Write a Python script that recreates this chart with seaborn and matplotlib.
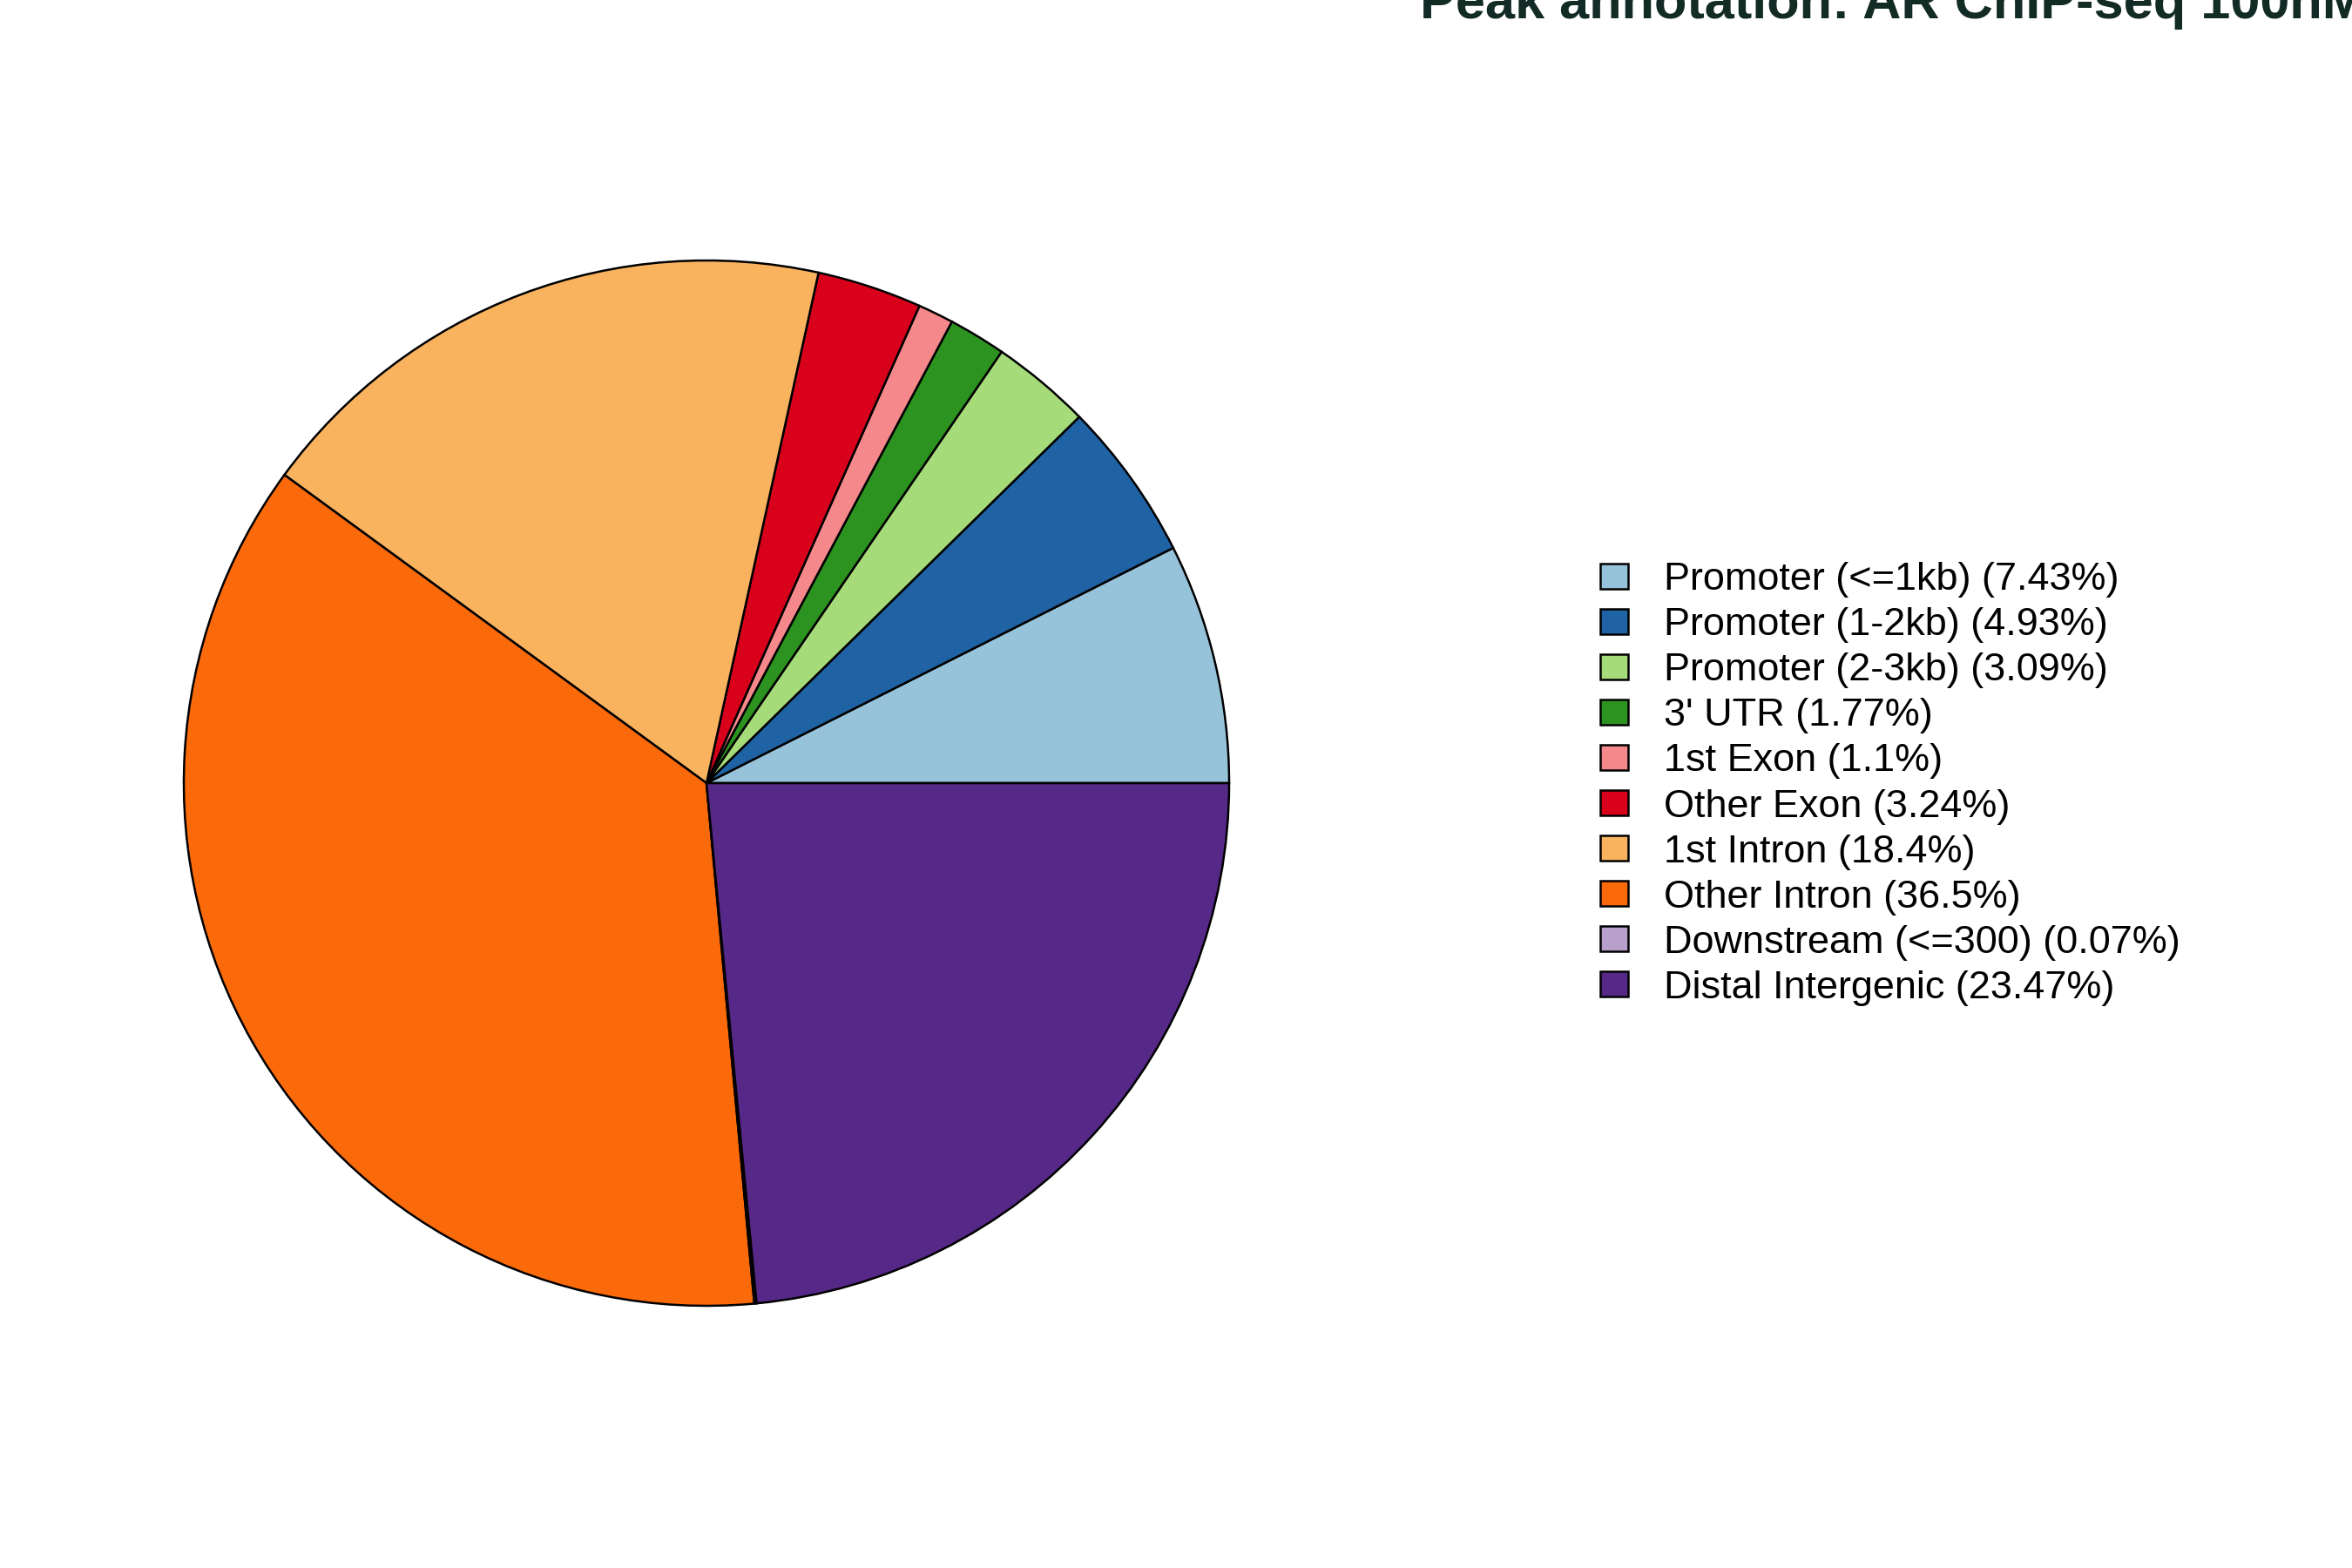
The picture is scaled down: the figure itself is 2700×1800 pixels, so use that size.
import matplotlib
matplotlib.use('Agg')
import matplotlib.pyplot as plt
import seaborn as sns
from matplotlib.patches import Patch

categorias = ['Promoter (<=1kb)', 'Promoter (1-2kb)', 'Promoter (2-3kb)', "3' UTR",
              '1st Exon', 'Other Exon', '1st Intron', 'Other Intron',
              'Downstream (<=300)', 'Distal Intergenic']
percentuais = [7.43, 4.93, 3.09, 1.77, 1.1, 3.24, 18.4, 36.5, 0.07, 23.47]
percentuais_texto = ['7.43', '4.93', '3.09', '1.77', '1.1', '3.24', '18.4', '36.5', '0.07', '23.47']
cores = ['#97c3da', '#1f63a5', '#a6db7a', '#2d9320', '#f5888a',
         '#d9001b', '#f9b35f', '#fb6a0a', '#b9a0cc', '#562888']
titulo = 'Peak annotation: AR ChIP-seq 100nM'

sns.set_style('white')
plt.rcParams['font.family'] = ['Liberation Sans', 'DejaVu Sans']
plt.rcParams['text.color'] = 'black'

paleta = sns.color_palette(cores)

fig = plt.figure(figsize=(15, 10), dpi=180)
ax = fig.add_axes([211 / 2700, 301 / 1800, 1200 / 2700, 1200 / 1800])
ax.pie(percentuais, colors=paleta, startangle=0, counterclock=True,
       wedgeprops={'edgecolor': 'black', 'linewidth': 1.0})
ax.set_xlim(-1, 1)
ax.set_ylim(-1, 1)
ax.set_aspect('equal')
ax.axis('off')

# legenda com quadrados
rotulos = [f'{c} ({p}%)' for c, p in zip(categorias, percentuais_texto)]
handles = [Patch(facecolor=paleta[i], edgecolor='black', linewidth=1.0) for i in range(len(categorias))]
fig.legend(handles, rotulos, loc='center left', bbox_to_anchor=(1837 / 2700, 0.5),
           frameon=False, fontsize=18, handlelength=0.72, handleheight=0.62,
           handletextpad=0.9, labelspacing=0.245, borderpad=0, borderaxespad=0,
           labelcolor='black')

fig.text(1630 / 2700, 1 - 21 / 1800, titulo, ha='left', va='baseline',
         fontsize=24.5, fontweight='bold', color='#132b25')

fig.savefig('out.png', dpi=180)
